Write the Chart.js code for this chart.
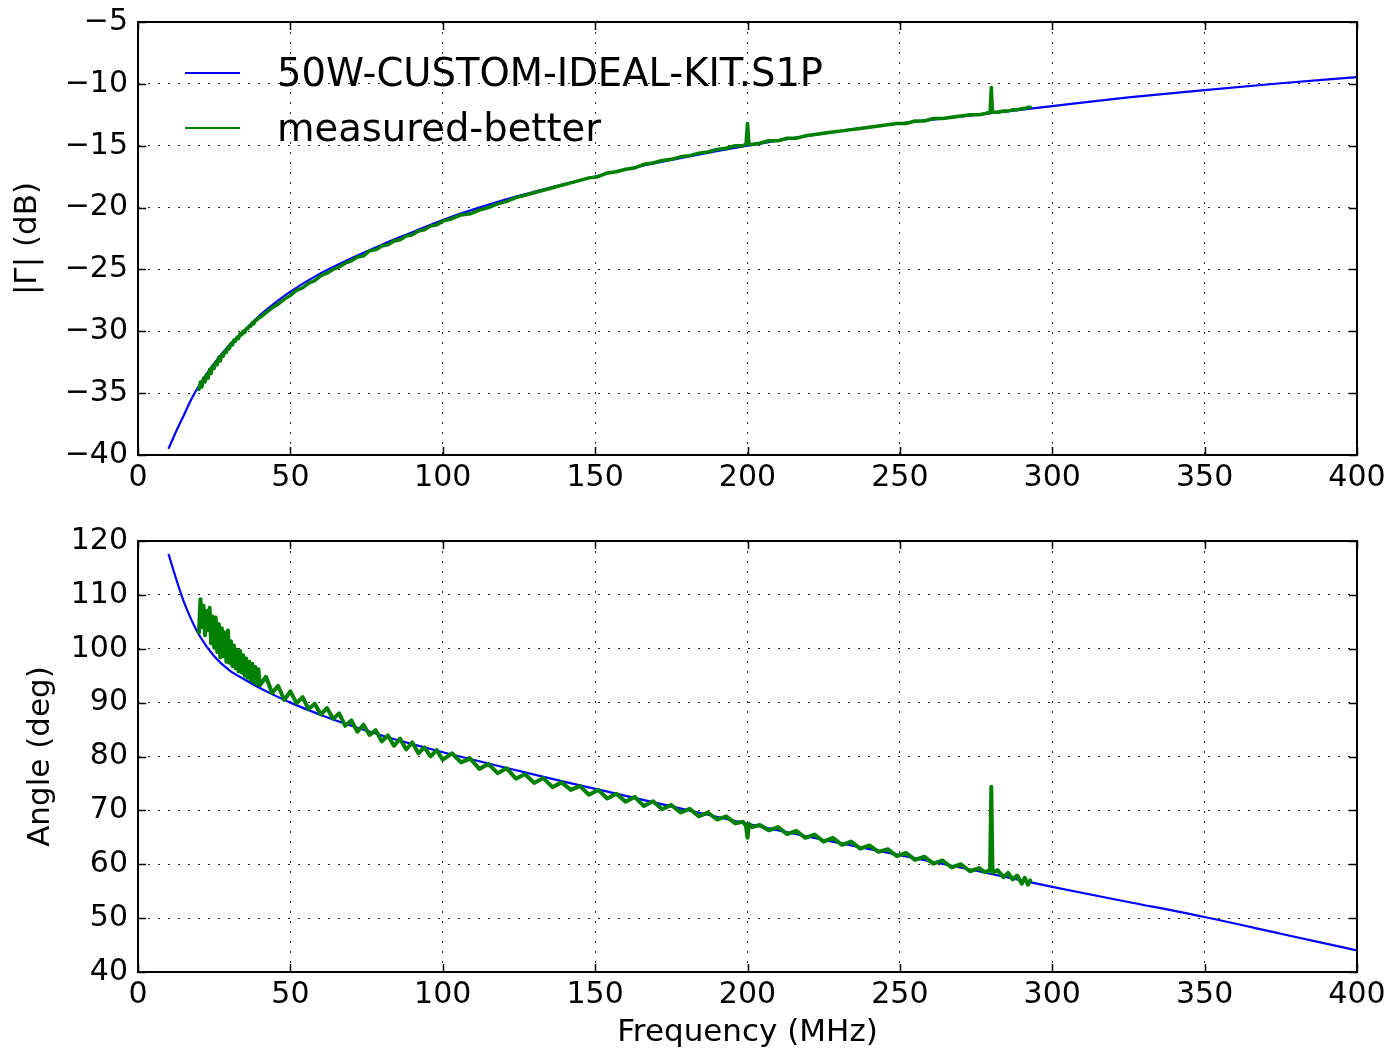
<!DOCTYPE html>
<html>
<head>
<meta charset="utf-8">
<title>Reflection coefficient vs frequency</title>
<script src="https://cdn.jsdelivr.net/npm/chart.js@4.4.0/dist/chart.umd.min.js"></script>
<style>
  html, body { margin: 0; padding: 0; background: #fff; }
  #wrap { position: relative; width: 1392px; height: 1052px; }
  canvas { position: absolute; left: 0; }
  #magChart { top: 0; }
  #angleChart { top: 500px; }
</style>
</head>
<body>
<div id="wrap">
  <canvas id="magChart" width="1392" height="500"></canvas>
  <canvas id="angleChart" width="1392" height="552"></canvas>
</div>
<script>
// Model curve (blue)
const blueFreq = [10, 12.5, 15, 17.5, 20, 25, 30, 35, 40, 45, 50, 60, 70, 80, 90, 100,
  120, 140, 160, 180, 200, 225, 250, 275, 300, 325, 350, 375, 400];
const blueMag = [-39.5, -38.1, -36.8, -35.5, -34.4, -32.6, -31.1, -29.9, -28.7, -27.7, -26.8,
  -25.3, -24.1, -23.0, -22.0, -21.0, -19.4, -18.1, -16.9, -15.9, -15.0, -14.0, -13.2, -12.5,
  -11.8, -11.1, -10.5, -9.95, -9.45];
const blueAngle = [117.6, 113.0, 108.8, 105.4, 102.6, 98.6, 96.0, 94.3, 92.7, 91.3, 90.0,
  87.7, 85.7, 83.9, 82.3, 80.8, 78.0, 75.3, 72.7, 70.1, 67.5, 64.5, 61.7, 58.8, 55.8, 53.0,
  50.2, 47.1, 44.0];

// Measurement (green)
const greenFreq = [
  20, 20.5, 21, 21.5, 22, 22.5, 23, 23.5, 24, 24.5, 25, 25.5, 26, 26.5, 27, 27.5, 28, 28.5, 29, 29.5,
  30, 30.5, 31, 31.5, 32, 32.5, 33, 33.5, 34, 34.5, 35, 35.5, 36, 36.5, 37, 37.5, 38, 38.5, 39, 39.5, 40,
  42, 44, 46, 48, 50, 52, 54, 56, 58, 60, 62, 64, 66, 68, 70, 72, 74, 76, 78, 80,
  82, 84, 86, 88, 90, 92, 94, 96, 98, 100,
  103, 106, 109, 112, 115, 118, 121, 124, 127, 130, 133, 136, 139, 142, 145, 148,
  151, 154, 157, 160, 163, 166, 169, 172, 175, 178, 181, 184, 187, 190, 193, 196,
  198.5, 199.5, 200, 200.5, 201.5,
  204, 207, 210, 213, 216, 219, 222, 225, 228, 231, 234, 237, 240, 243, 246, 249,
  252, 255, 258, 261, 264, 267, 270, 273, 276,
  278, 279.6, 280, 280.4, 282,
  284, 285.5, 287, 288.5, 290, 291, 292, 292.8
];
const greenMag = [
  -34.7, -34.1, -34.5, -33.8, -34.1, -33.5, -33.8, -33.1, -33.4, -32.8,
  -33.0, -32.5, -32.7, -32.1, -32.4, -31.9, -32.0, -31.6, -31.7, -31.3,
  -31.4, -31.0, -31.1, -30.7, -30.8, -30.5, -30.6, -30.2, -30.3, -30.0,
  -30.1, -29.8, -29.8, -29.6, -29.6, -29.3, -29.4, -29.1, -29.1, -28.9, -28.9,
  -28.5, -28.1, -27.8, -27.4, -27.1, -26.7, -26.5, -26.1, -25.9, -25.5,
  -25.3, -25.0, -24.8, -24.5, -24.3, -24.0, -23.9, -23.5, -23.4, -23.1,
  -23.0, -22.7, -22.6, -22.3, -22.2, -21.9, -21.8, -21.5, -21.4, -21.1,
  -20.9, -20.6, -20.5, -20.2, -20.0, -19.7, -19.5, -19.2, -19.0, -18.8,
  -18.6, -18.4, -18.2, -18.0, -17.8, -17.6, -17.5, -17.2, -17.1, -16.9,
  -16.8, -16.5, -16.4, -16.2, -16.1, -15.9, -15.8, -15.6, -15.5, -15.3, -15.2, -15.0,
  -15.0, -14.9, -13.2, -14.9, -14.9,
  -14.8, -14.6, -14.6, -14.4, -14.4, -14.2, -14.1, -14.0, -13.9, -13.8,
  -13.7, -13.6, -13.5, -13.4, -13.3, -13.2, -13.2, -13.0, -13.0, -12.8,
  -12.8, -12.7, -12.6, -12.5, -12.5,
  -12.4, -12.3, -10.3, -12.3, -12.3,
  -12.2, -12.2, -12.1, -12.1, -12.0, -12.0, -11.9, -11.9
];
const greenAngle = [
  103.0, 109.2, 104.0, 108.0, 102.5, 107.0, 103.5, 107.6, 101.0, 106.0,
  100.2, 105.8, 99.4, 104.6, 98.4, 103.8, 98.6, 103.0, 97.6, 103.4,
  97.4, 101.4, 96.8, 100.6, 96.4, 99.8, 95.8, 99.6, 95.6, 98.8,
  95.0, 98.2, 94.6, 97.6, 94.2, 97.2, 93.8, 96.6, 93.4, 96.2, 93.2,
  94.8, 91.8, 93.1, 90.5, 92.1, 89.9, 91.0, 88.8, 89.8, 87.8,
  89.0, 87.0, 88.0, 85.7, 86.7, 84.6, 85.9, 84.0, 84.9, 82.8,
  83.9, 82.0, 83.3, 81.3, 82.6, 80.6, 81.7, 80.0, 81.2, 79.4,
  80.6, 78.9, 79.6, 77.7, 78.6, 76.9, 77.8, 75.9, 76.7, 75.1,
  76.0, 74.3, 75.2, 73.8, 74.5, 72.9, 73.8, 72.2, 73.1, 71.6,
  72.5, 70.8, 71.7, 70.2, 71.0, 69.6, 70.3, 68.9, 69.6, 68.3, 68.9, 67.6,
  67.9, 67.1, 64.9, 67.5, 66.9,
  67.3, 66.3, 66.9, 65.6, 66.2, 64.9, 65.5, 64.2, 64.9, 63.6,
  64.2, 62.9, 63.5, 62.3, 62.8, 61.5, 62.1, 60.8, 61.4, 60.1,
  60.7, 59.4, 60.0, 58.7, 59.3,
  58.5, 59.0, 74.4, 58.4, 58.9,
  57.6, 58.4, 57.2, 57.9, 56.4, 57.5, 56.2, 57.0
];

// Ticks
const freqTicks = [0, 50, 100, 150, 200, 250, 300, 350, 400];
const magTicks = [-40, -35, -30, -25, -20, -15, -10, -5];
const angleTicks = [40, 50, 60, 70, 80, 90, 100, 110, 120];

const seriesNames = ['50W-CUSTOM-IDEAL-KIT.S1P', 'measured-better'];
const BLUE = '#0000ff';
const GREEN = '#008000';
const FONT = 'DejaVu Sans';

const pairs = (xs, ys) => xs.map((x, i) => ({ x: x, y: ys[i] }));
const minus = v => String(v).replace('-', '\u2212');

// frame + inward ticks on all four sides, matplotlib classic look
const frameTicks = {
  id: 'frameTicks',
  afterDraw(chart) {
    const { ctx, chartArea: a, scales: { x, y } } = chart;
    ctx.save();
    ctx.strokeStyle = '#000';
    ctx.lineWidth = 1.5;
    ctx.beginPath();
    x.ticks.forEach(t => {
      const px = Math.round(x.getPixelForValue(t.value)) + 0.5;
      ctx.moveTo(px, a.bottom); ctx.lineTo(px, a.bottom - 8);
      ctx.moveTo(px, a.top); ctx.lineTo(px, a.top + 8);
    });
    y.ticks.forEach(t => {
      const py = Math.round(y.getPixelForValue(t.value)) + 0.5;
      ctx.moveTo(a.left, py); ctx.lineTo(a.left + 8, py);
      ctx.moveTo(a.right, py); ctx.lineTo(a.right - 8, py);
    });
    ctx.stroke();
    ctx.lineWidth = 2;
    ctx.strokeRect(a.left, a.top, a.right - a.left, a.bottom - a.top);
    ctx.restore();
  }
};

// legend drawn inside the upper plot
const innerLegend = {
  id: 'innerLegend',
  afterDraw(chart) {
    const ctx = chart.ctx;
    const rows = [[BLUE, 73], [GREEN, 128]];
    ctx.save();
    ctx.font = '38.5px "' + FONT + '"';
    ctx.textBaseline = 'middle';
    ctx.fillStyle = '#000';
    rows.forEach((r, i) => {
      ctx.strokeStyle = r[0];
      ctx.lineWidth = 2;
      ctx.beginPath();
      ctx.moveTo(185, r[1]); ctx.lineTo(240, r[1]);
      ctx.stroke();
      ctx.fillText(seriesNames[i], 277, r[1] + 3);
    });
    ctx.restore();
  }
};

function xScale(showTitle, height) {
  return {
    type: 'linear', min: 0, max: 400,
    afterBuildTicks: s => { s.ticks = freqTicks.map(v => ({ value: v })); },
    afterFit: s => { s.height = height; s.paddingLeft = 0; s.paddingRight = 0; },
    ticks: { font: { family: FONT, size: 30 }, color: '#000', padding: 5, maxRotation: 0 },
    grid: { color: 'rgba(0,0,0,0.85)', lineWidth: 1, drawTicks: false },
    border: { display: false, dash: [2, 8] },
    title: { display: showTitle, text: 'Frequency (MHz)', color: '#000',
      font: { family: FONT, size: 31 }, padding: { top: 0, bottom: 0 } }
  };
}

function yScale(ticks, label, titlePad) {
  return {
    type: 'linear', min: ticks[0], max: ticks[ticks.length - 1],
    afterBuildTicks: s => { s.ticks = ticks.map(v => ({ value: v })); },
    afterFit: s => { s.width = 138; s.paddingTop = 0; s.paddingBottom = 0; },
    ticks: { font: { family: FONT, size: 30 }, color: '#000', padding: 10, callback: minus },
    grid: { color: 'rgba(0,0,0,0.85)', lineWidth: 1, drawTicks: false },
    border: { display: false, dash: [2, 8] },
    title: { display: true, text: label, color: '#000',
      font: { family: FONT, size: 31 }, padding: { top: titlePad, bottom: 0 } }
  };
}

function makeChart(id, blueY, greenY, yTicks, yLabel, titlePad, opts) {
  return new Chart(document.getElementById(id), {
    type: 'line',
    data: {
      datasets: [
        { label: seriesNames[0], data: pairs(blueFreq, blueY), borderColor: BLUE,
          borderWidth: 2.2, pointRadius: 0, cubicInterpolationMode: 'monotone', order: 1 },
        { label: seriesNames[1], data: pairs(greenFreq, greenY), borderColor: GREEN,
          borderWidth: opts.greenWidth, pointRadius: 0, tension: 0, order: 0,
          borderJoinStyle: 'round', borderCapStyle: 'round' }
      ]
    },
    options: {
      responsive: false,
      animation: false,
      layout: { padding: { top: opts.top, right: 35, left: 0, bottom: 0 } },
      plugins: { legend: { display: false }, tooltip: { enabled: false } },
      scales: {
        x: xScale(opts.xTitle, opts.xHeight),
        y: yScale(yTicks, yLabel, titlePad)
      }
    },
    plugins: opts.legend ? [frameTicks, innerLegend] : [frameTicks]
  });
}

makeChart('magChart', blueMag, greenMag, magTicks, '|\u0393| (dB)', 9,
  { top: 22, xHeight: 45, xTitle: false, legend: true, greenWidth: 3.5 });
makeChart('angleChart', blueAngle, greenAngle, angleTicks, 'Angle (deg)', 22,
  { top: 41, xHeight: 80, xTitle: true, legend: false, greenWidth: 4 });
</script>
</body>
</html>
